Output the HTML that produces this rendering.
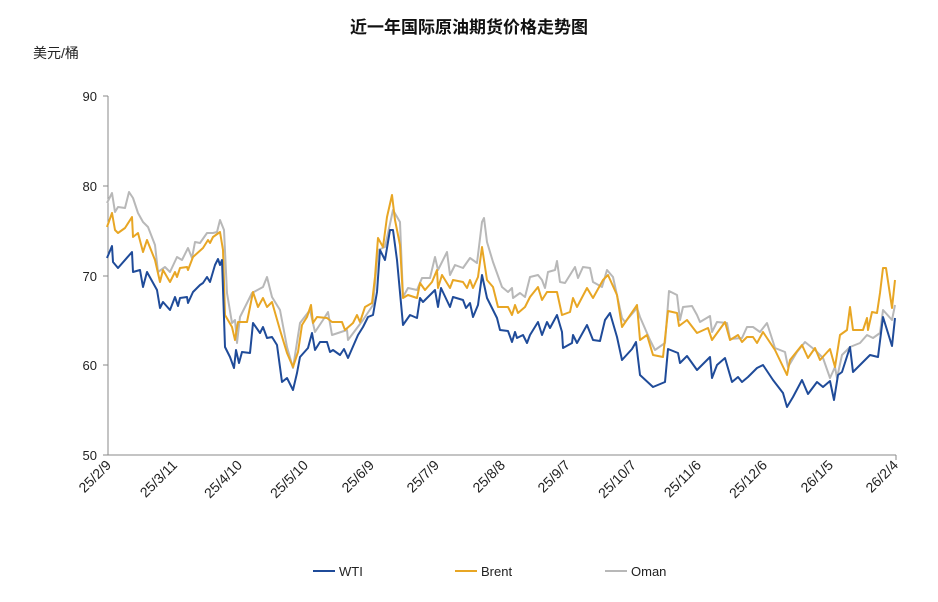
<!DOCTYPE html>
<html><head><meta charset="utf-8"><style>
html,body{margin:0;padding:0;background:#fff;}
svg{display:block;font-family:"Liberation Sans","Noto Sans CJK SC",sans-serif;}
</style></head><body>
<svg width="938" height="602" viewBox="0 0 938 602" xmlns="http://www.w3.org/2000/svg">
<text x="469" y="33" text-anchor="middle" font-size="17" font-weight="bold" fill="#111">近一年国际原油期货价格走势图</text>
<text x="33" y="58" font-size="14" fill="#222">美元/桶</text>
<g stroke="#888" stroke-width="1" fill="none">
<line x1="108" y1="96" x2="108" y2="455"/>
<line x1="108" y1="455" x2="896" y2="455"/>
<line x1="103" y1="96" x2="108" y2="96"/><line x1="103" y1="186" x2="108" y2="186"/><line x1="103" y1="276" x2="108" y2="276"/><line x1="103" y1="365" x2="108" y2="365"/><line x1="103" y1="455" x2="108" y2="455"/>
<line x1="896" y1="455" x2="896" y2="460"/>
</g>
<g font-size="13" fill="#222" text-anchor="end">
<text x="97" y="101">90</text><text x="97" y="191">80</text><text x="97" y="281">70</text><text x="97" y="370">60</text><text x="97" y="460">50</text>
</g>
<g font-size="14" fill="#222" text-anchor="end">
<text transform="translate(112,466) rotate(-45)">25/2/9</text>
<text transform="translate(178,466) rotate(-45)">25/3/11</text>
<text transform="translate(243,466) rotate(-45)">25/4/10</text>
<text transform="translate(309,466) rotate(-45)">25/5/10</text>
<text transform="translate(375,466) rotate(-45)">25/6/9</text>
<text transform="translate(440,466) rotate(-45)">25/7/9</text>
<text transform="translate(506,466) rotate(-45)">25/8/8</text>
<text transform="translate(571,466) rotate(-45)">25/9/7</text>
<text transform="translate(637,466) rotate(-45)">25/10/7</text>
<text transform="translate(702,466) rotate(-45)">25/11/6</text>
<text transform="translate(768,466) rotate(-45)">25/12/6</text>
<text transform="translate(834,466) rotate(-45)">26/1/5</text>
<text transform="translate(899,466) rotate(-45)">26/2/4</text>
</g>
<g fill="none" stroke-width="2" stroke-linejoin="round">
<polyline stroke="#b8b8b8" points="107,203 112,193 115,212 118,207 125,208 129,192 133,198 138,213 143,222 148,227 155,245 158,272 165,267 170,272 177,257 182,260 188,248 192,258 195,242 200,243 207,233 213,233 217,232 220,220 224,230 227,293 232,323 235,320 237,343 240,317 252,293 263,287 267,277 272,297 280,310 287,347 293,368 300,323 310,310 315,332 323,320 328,312 332,335 347,330 348,340 363,320 373,305 378,250 385,247 393,210 400,222 403,297 408,288 417,290 422,278 430,278 435,257 438,270 447,252 450,275 455,265 463,268 470,258 477,263 482,222 484,218 487,242 493,262 502,287 508,292 512,288 513,298 520,293 525,297 530,277 538,275 542,280 545,288 548,272 555,270 557,261 560,282 565,283 575,267 578,278 583,267 590,268 593,282 602,287 607,270 613,277 622,318 625,322 637,308 640,317 650,340 655,350 665,343 669,291 677,295 680,320 683,307 692,306 697,315 700,322 710,316 712,332 717,322 727,323 730,339 742,338 747,327 753,327 760,332 767,323 775,348 785,352 788,367 797,352 805,342 815,350 823,358 830,378 835,367 837,378 842,355 850,347 860,343 867,335 873,338 880,333 883,310 892,320 895,305"/>
<polyline stroke="#e8a624" points="107,227 112,213 115,230 118,233 125,228 132,217 133,237 138,233 143,252 147,240 155,260 160,282 163,270 170,282 175,272 177,277 180,268 187,267 188,270 193,257 203,248 208,240 210,243 213,237 220,232 223,250 225,315 232,327 235,340 238,322 247,322 253,292 258,307 263,298 267,307 272,302 280,330 287,353 293,367 298,352 302,325 307,317 311,305 313,323 317,317 327,318 332,322 342,322 345,330 353,323 357,315 360,322 365,307 372,303 375,277 378,238 383,247 387,217 392,195 395,220 400,245 403,298 408,295 417,298 420,283 425,290 432,282 437,270 438,288 442,275 450,288 453,280 463,282 467,288 470,280 473,288 478,277 482,247 487,280 493,287 498,307 508,307 512,315 515,305 518,313 525,307 530,297 538,287 542,300 547,292 557,292 562,315 570,312 573,298 577,307 587,288 593,298 603,280 608,275 617,295 622,327 637,305 640,340 647,335 653,355 663,357 668,311 677,313 679,326 687,320 697,333 708,328 712,340 725,322 730,340 738,335 742,342 747,337 753,337 757,343 763,332 775,350 787,375 790,360 802,345 808,358 815,348 820,360 830,349 835,367 840,335 847,330 850,307 853,330 863,330 867,318 868,330 872,312 877,313 880,293 883,268 886,268 892,308 895,280"/>
<polyline stroke="#1f4b99" points="107,258 112,246 113,262 118,268 132,252 133,272 140,270 143,287 147,272 157,290 160,308 163,302 170,310 175,297 178,306 180,298 187,297 188,303 193,292 200,285 203,283 207,277 210,282 215,265 218,259 220,265 222,260 225,347 230,357 234,368 236,350 239,363 242,352 250,353 253,323 260,333 263,327 267,338 272,337 277,345 282,382 287,378 293,390 297,373 300,357 308,348 312,333 315,350 320,342 327,342 330,352 333,350 340,355 344,349 348,358 358,335 363,327 368,317 373,315 377,292 380,250 385,260 390,230 393,230 397,260 403,325 410,315 417,318 420,298 423,302 435,290 438,307 441,288 450,307 453,297 463,300 466,308 470,303 473,317 478,305 482,275 487,298 497,318 500,330 508,331 512,342 515,332 517,338 523,335 527,343 530,335 538,322 542,335 547,322 550,328 557,315 562,332 563,348 572,343 573,335 577,343 587,325 593,340 600,341 605,320 610,313 617,337 622,360 632,349 636,342 640,375 653,387 665,382 668,349 678,353 680,363 687,356 697,370 710,357 712,378 717,365 725,358 732,382 738,377 742,382 748,377 757,368 763,365 773,380 783,393 787,407 793,397 802,380 808,394 817,382 823,387 830,381 834,400 838,375 842,372 850,347 853,372 867,358 870,355 878,357 883,317 892,346 895,318"/>
</g>
<g stroke-width="2">
<line x1="313" y1="571" x2="335" y2="571" stroke="#1f4b99"/>
<line x1="455" y1="571" x2="477" y2="571" stroke="#e8a624"/>
<line x1="605" y1="571" x2="627" y2="571" stroke="#b8b8b8"/>
</g>
<g font-size="13" fill="#222">
<text x="339" y="576">WTI</text>
<text x="481" y="576">Brent</text>
<text x="631" y="576">Oman</text>
</g>
</svg>
</body></html>
